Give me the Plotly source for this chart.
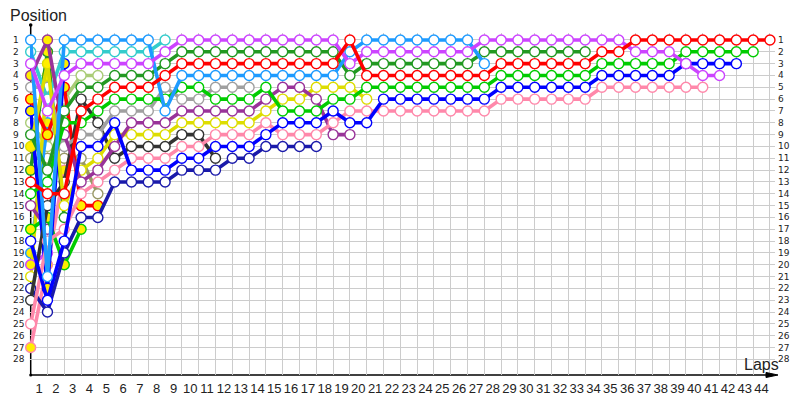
import plotly.graph_objects as go

# ---------------- data ----------------
laps_labels = [str(k) for k in range(1, 45)]
positions = list(range(1, 29))

# positions per lap, starting at lap 0 (grid)
lb = [1, 21, 1, 1, 1, 1, 1, 1, 7, 4, 4, 4, 4, 4, 4, 4, 4, 4, 4, 2, 1, 1, 1, 1, 1, 1, 1, 3]
tq = [2, 6, 2, 2, 2, 2, 2, 2, 1]
vi = [3, 7, 4, 3, 3, 3, 3, 3, 2, 1, 1, 1, 1, 1, 1, 1, 1, 1, 1, 3, 2, 2, 2, 2, 2, 2, 2,
      1, 1, 1, 1, 1, 1, 1, 1, 1, 2, 2, 2, 3, 4, 4]
dg = [9, 12, 7, 5, 5, 4, 4, 4, 3, 2, 2, 2, 2, 2, 2, 2, 2, 2, 2, 4, 3, 3, 3, 3, 3, 3, 3,
      2, 2, 2, 2, 2, 2, 2]
re = [13, 14, 14, 7, 6, 5, 5, 5, 4, 3, 3, 3, 3, 3, 3, 3, 3, 3, 3, 1, 4, 4, 4, 4, 4, 4, 4, 4,
      3, 3, 3, 3, 3, 3, 2, 2, 1, 1, 1, 1, 1, 1, 1, 1, 1]
lm = [14, 13, 8, 8, 7, 6, 6, 6, 6, 5, 5, 6, 6, 6, 5, 7, 7, 7, 6, 6, 5, 5, 5, 5, 5, 5, 5, 5,
      4, 4, 4, 4, 4, 4, 3, 3, 3, 3, 3, 2, 2, 2, 2, 2]
gr = [5, 5, 10, 9, 9, 7, 7, 7, 5, 6, 6, 5, 5, 5]
pu = [4, 1, 9, 13, 12, 10, 8, 8, 8, 7, 7, 7, 7, 7, 6, 5, 5, 6, 9, 9]
ye = [10, 3, 15, 12, 11, 9, 9, 9, 9, 8, 8, 8, 8, 8, 7, 6, 6, 5, 5, 5, 6]
bk = [23, 15, 13, 6, 8, 11, 10, 10, 10, 9, 9, 11]
pk = [25, 18, 17, 14, 13, 12, 11, 11, 11, 10, 10, 9, 9, 9, 8, 9, 9, 9, 8, 7, 7, 7, 7, 7, 7, 7, 7, 7,
      6, 6, 6, 6, 6, 6, 5, 5, 5, 5, 5, 5, 5]
bl = [18, 23, 18, 10, 10, 8, 12, 12, 12, 11, 11, 10, 10, 10, 9, 8, 8, 8, 7, 8, 8, 6, 6, 6, 6, 6, 6, 6,
      5, 5, 5, 5, 5, 5, 4, 4, 4, 4, 4, 3, 3, 3, 3]
db = [22, 24, 19, 16, 16, 13, 13, 13, 13, 12, 12, 12, 11, 11, 10, 10, 10, 10]
bl1 = [7, 22, 3]
re2 = [6, 9, 5, 15, 15]
lm2 = [17, 16, 20, 17]
dg2 = [12, 2, 16]
pu2 = [15, 17]
vi2 = [20, 19]
ye2 = [21, 4]
lb2 = [19, 8]
pk2 = [27, 20, 12]
yg = [8, 10, 6, 4, 4]
ol = [11, 11, 11, 11, 14]

# laps with a yellow-filled marker
lb_y, tq_y, vi_y, dg_y, re_y, lm_y, gr_y = [], [], [], [], [], [], []
pu_y, ye_y, bk_y, pk_y, bl_y, db_y = [0, 1], [0, 1], [], [], [], []
bl1_y, re2_y, lm2_y, dg2_y = [0, 1, 2], [0, 1, 2, 3, 4], [0, 1, 2, 3], [0, 1]
pu2_y, vi2_y, ye2_y, lb2_y, pk2_y, yg_y, ol_y = [], [0, 1], [1], [0, 1], [0, 1, 2], [], []

series = [
    ("ol", ol, ol_y, "#999966"), ("yg", yg, yg_y, "#aacc77"),
    ("pk2", pk2, pk2_y, "#ff88aa"), ("lb2", lb2, lb2_y, "#1e9bff"),
    ("ye2", ye2, ye2_y, "#dddd00"), ("vi2", vi2, vi2_y, "#cc44ff"),
    ("pu2", pu2, pu2_y, "#993399"), ("dg2", dg2, dg2_y, "#229922"),
    ("lm2", lm2, lm2_y, "#00cc00"), ("re2", re2, re2_y, "#ff0000"),
    ("bl1", bl1, bl1_y, "#0000ff"),
    ("db", db, db_y, "#1a1aaa"), ("bk", bk, bk_y, "#333333"),
    ("gr", gr, gr_y, "#a0a0a0"), ("tq", tq, tq_y, "#33cccc"),
    ("ye", ye, ye_y, "#dddd00"), ("pu", pu, pu_y, "#993399"),
    ("pk", pk, pk_y, "#ff88aa"), ("bl", bl, bl_y, "#0000ff"),
    ("lm", lm, lm_y, "#00cc00"), ("dg", dg, dg_y, "#229922"),
    ("lb", lb, lb_y, "#1e9bff"), ("vi", vi, vi_y, "#cc44ff"),
    ("re", re, re_y, "#ff0000"),
]

# ---------------- figure ----------------
OFF = 8                      # page body margin
FW, FH = 800 - OFF, 400 - OFF
L, T, W, H = 30 - OFF, 33 - OFF, 745, 342


def pxx(px):                 # page pixel -> paper x
    return (px - OFF - L) / W


def pxy(py):                 # page pixel -> paper y
    return 1 - (py - OFF - T) / H


fig = go.Figure()
for name, pos, yl, col in series:
    x = list(range(len(pos)))
    fills = ["#ffee00" if i in yl else "white" for i in x]
    fig.add_trace(go.Scatter(
        x=x, y=pos, mode="lines+markers", name=name,
        line=dict(color=col, width=3.6),
        marker=dict(symbol="circle", size=10, color=fills,
                    line=dict(color=col, width=1.4)),
        cliponaxis=False, hoverinfo="skip", showlegend=False))

font = "Liberation Sans, Arial, sans-serif"
fig.update_layout(
    width=FW, height=FH,
    margin=dict(l=L, r=FW - L - W, t=T, b=FH - T - H, autoexpand=False),
    paper_bgcolor="white", plot_bgcolor="white",
    xaxis=dict(range=[-0.04, 44.3], tickmode="array",
               tickvals=[k - 0.5 for k in range(1, 45)], ticktext=laps_labels,
               showgrid=False, zeroline=False, showline=False, ticks="",
               ticklabelstandoff=4, automargin=False,
               tickfont=dict(family=font, size=13, color="#222"),
               minor=dict(tickmode="array", tickvals=list(range(0, 45)),
                          showgrid=True, gridcolor="#cccccc", gridwidth=1, ticks="")),
    yaxis=dict(range=[29.32, 0.41], tickmode="array", tickvals=positions,
               showticklabels=False, showgrid=True, gridcolor="#cccccc", gridwidth=1,
               zeroline=False, showline=False, ticks="", automargin=False),
)

ann = []
for p in positions:
    ann.append(dict(x=pxx(11), xref="paper", y=p, yref="y", text=str(p),
                    showarrow=False, xanchor="left", yanchor="middle",
                    font=dict(family="DejaVu Sans, sans-serif", size=9, color="#222")))
    ann.append(dict(x=pxx(776), xref="paper", y=p, yref="y", text=str(p),
                    showarrow=False, xanchor="left", yanchor="middle",
                    font=dict(family="DejaVu Sans, sans-serif", size=9, color="#222")))
ann.append(dict(x=pxx(8), xref="paper", y=pxy(16), yref="paper", text="Position",
                showarrow=False, xanchor="left", yanchor="middle",
                font=dict(family=font, size=16, color="#222")))
ann.append(dict(x=pxx(742), xref="paper", y=pxy(364), yref="paper", text="Laps",
                showarrow=False, xanchor="left", yanchor="middle",
                font=dict(family=font, size=16, color="#222")))
fig.update_layout(annotations=ann)

shapes = [
    dict(type="line", xref="paper", yref="paper", x0=pxx(30.7), x1=pxx(30.7),
         y0=pxy(25), y1=pxy(375), line=dict(color="black", width=1.5), layer="between"),
    dict(type="line", xref="paper", yref="paper", x0=pxx(30.7), x1=pxx(772),
         y0=pxy(375), y1=pxy(375), line=dict(color="black", width=1.5), layer="between"),
    dict(type="path", xref="paper", yref="paper",
         path="M %f %f L %f %f L %f %f Z" % (pxx(766), pxy(372.5), pxx(778), pxy(375),
                                             pxx(766), pxy(377.5)),
         fillcolor="black", line=dict(color="black", width=1), layer="above"),
    dict(type="circle", xref="paper", yref="paper", x0=pxx(28.9), x1=pxx(32.5),
         y0=pxy(23.2), y1=pxy(26.8), fillcolor="black", line=dict(color="black", width=0)),
    dict(type="circle", xref="paper", yref="paper", x0=pxx(29.2), x1=pxx(32.2),
         y0=pxy(373.5), y1=pxy(376.5), fillcolor="black", line=dict(color="black", width=0)),
]
fig.update_layout(shapes=shapes)

fig.write_html("out.html")
